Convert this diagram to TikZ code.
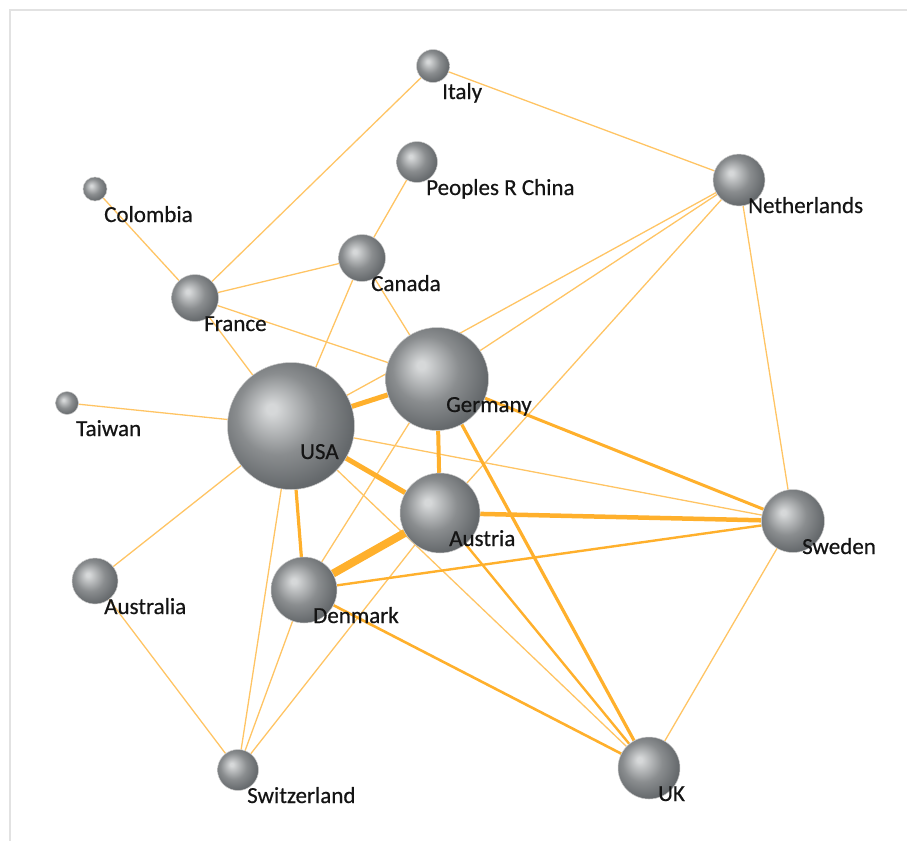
\documentclass[tikz,border=0pt]{standalone}
\usepackage{fontspec}
\setmainfont{Carlito}
\newfontfamily\labfont{Carlito}[FakeBold=0.5]
\usetikzlibrary{backgrounds}

\definecolor{linkorange}{RGB}{255,176,44}
\definecolor{thinorange}{RGB}{255,196,100}
\definecolor{globehi}{RGB}{214,216,217}
\definecolor{globemid}{RGB}{138,141,143}
\definecolor{globedark}{RGB}{100,104,107}
\definecolor{framegray}{RGB}{226,226,226}
\pgfdeclareradialshading{globeshade}{\pgfqpoint{-8bp}{7bp}}{color(0bp)=(globehi); color(2bp)=(globehi); color(16bp)=(globemid); color(28bp)=(globedark); color(50bp)=(globedark)}

\begin{document}
\begin{tikzpicture}[x=1pt,y=-1pt,
    country/.style={circle,inner sep=0pt,minimum size=#1,shading=globeshade,draw=gray!40,line width=0.5pt},
    lab/.style={font=\labfont\fontsize{23}{27}\selectfont,text=black!92,inner sep=0pt,anchor=base west},
    link/.style={draw=linkorange,line width=#1},
    thinlink/.style={draw=thinorange,line width=1.3pt}]
  \useasboundingbox (0,0) rectangle (907,841);
  \draw[framegray,line width=1.5pt] (10,841) -- (10,10) -- (907,10);

  % countries: name / x / y / diameter / text
  \foreach \n/\x/\y/\d/\t in {italy/433/66/33/Italy, china/417/162/41/Peoples R China,
      colombia/95/189/24/Colombia, netherlands/739/180/52/Netherlands,
      canada/362/258/47/Canada, france/195/298/47/France, germany/437/379/103/Germany,
      taiwan/67/403/23/Taiwan, usa/291/426/127/USA, austria/440/513/80/Austria,
      sweden/793/521/63/Sweden, australia/95/581/46/Australia, denmark/304/590/66/Denmark,
      switzerland/238/770/41/Switzerland, uk/649/768/62/UK}{
    \node[country=\d pt] (\n) at (\x,\y) {};
    \node[lab] (\n-t) at ([shift={(9,33)}]\n.center) {\t};
  }

  % links
  \begin{scope}[on background layer]
    \foreach \a/\b in {italy/france, italy/netherlands, china/canada,
        colombia/france, france/canada, france/germany, france/usa,
        canada/usa, canada/germany, netherlands/usa, netherlands/germany,
        netherlands/austria, netherlands/sweden, taiwan/usa, usa/sweden,
        usa/australia, usa/switzerland, usa/uk, germany/denmark,
        austria/switzerland, denmark/switzerland, australia/switzerland, sweden/uk}
      \draw[thinlink] (\a) -- (\b);
    % weighted links, width in pt
    \foreach \a/\b/\w in {usa/denmark/3.2, germany/austria/4, germany/sweden/3,
        germany/uk/3.2, austria/uk/2.4, denmark/sweden/2.4, denmark/uk/2.6,
        usa/germany/5, usa/austria/5, austria/sweden/4.5, austria/denmark/8}
      \draw[link=\w pt] (\a) -- (\b);
  \end{scope}
\end{tikzpicture}
\end{document}
